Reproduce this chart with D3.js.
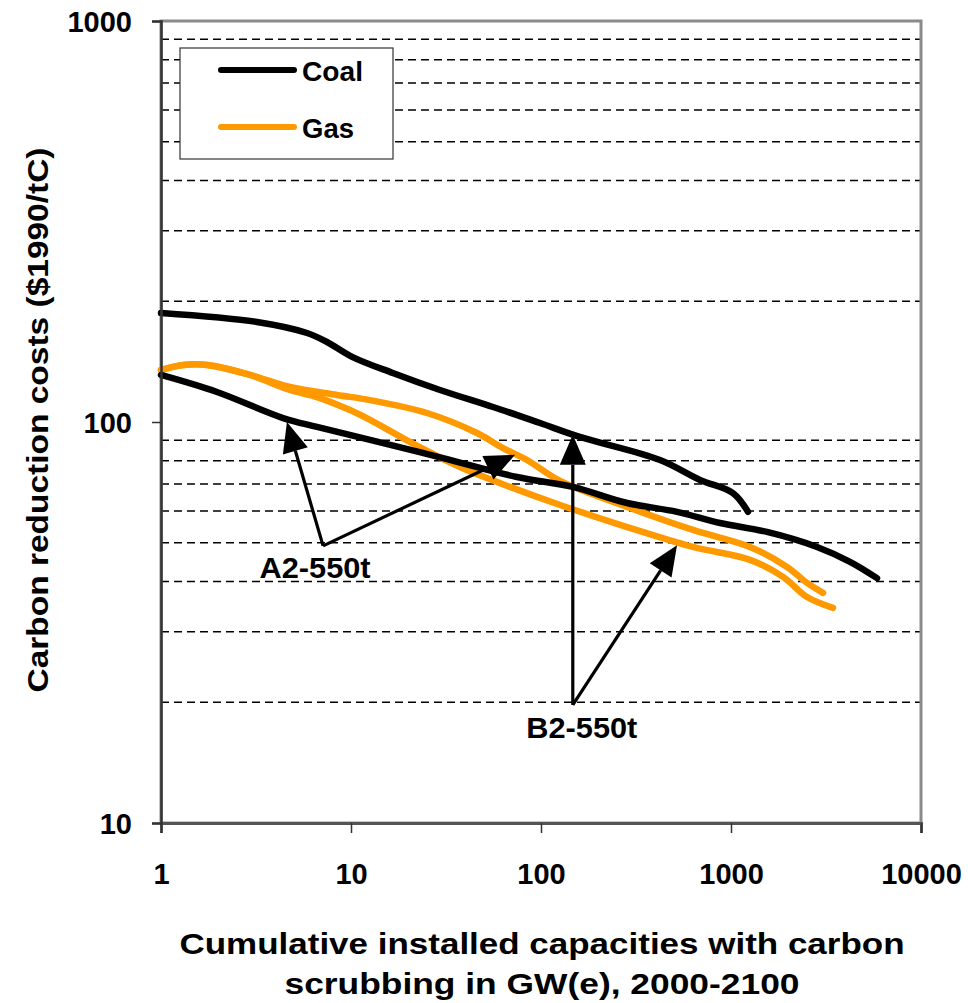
<!DOCTYPE html>
<html>
<head>
<meta charset="utf-8">
<script src="https://cdn.jsdelivr.net/npm/d3@7"></script>
<style>
  html, body { margin: 0; padding: 0; background: #fff; }
  svg { display: block; }
  text { font-family: "Liberation Sans", Arial, sans-serif; fill: #000; }
</style>
</head>
<body>
<svg id="chart" width="968" height="1003"></svg>
<script>
// ---------- data ----------
const xTicks = [1, 10, 100, 1000, 10000];
const yTicks = [10, 100, 1000];
const gridValues = [20, 30, 40, 50, 60, 70, 80, 90, 200, 300, 400, 500, 600, 700, 800, 900];

// Coal, B2-550t scenario (upper black curve)
const coalB2x = [1, 3.2, 5.87, 7.47, 10.2, 16.6, 29.4, 55.9, 98.8, 160, 423, 687, 1024, 1229];
const coalB2y = [187, 177.6, 166.7, 158.3, 145.2, 132.5, 120.2, 109.0, 99.4, 91.8, 80.4, 71.7, 66.5, 59.7];

// Coal, A2-550t scenario (lower black curve)
const coalA2x = [1, 1.97, 4.39, 6.62, 12.6, 30.5, 74.8, 147, 284, 520, 875, 1547, 2836, 4229, 5868];
const coalA2y = [131, 118.8, 102.3, 97.2, 90.2, 81.3, 72.9, 68.9, 62.8, 59.7, 56.0, 53.2, 48.8, 44.8, 40.8];

// Gas, A2-550t scenario (upper orange curve)
const gasA2x = [1, 1.31, 1.75, 2.94, 4.77, 8.44, 12.6, 25.1, 46.0, 63.1, 84.4, 126, 284, 631, 1259, 1971, 2512, 3050];
const gasA2y = [134.8, 138.7, 138.7, 131, 122.3, 116.8, 113.4, 105.3, 93.9, 86.1, 80.4, 71.3, 61.4, 53.8, 48.8, 43.5, 39.7, 37.5];

// Gas, B2-550t scenario (lower orange curve)
const gasB2x = [1, 1.31, 1.75, 2.94, 4.77, 6.62, 9.88, 12.6, 20.4, 37.5, 68.7, 126, 284, 631, 1259, 1878, 2512, 3442];
const gasB2y = [134.8, 138.7, 138.7, 131, 120.2, 115.4, 107.1, 101.2, 89.2, 77.2, 68.9, 62.1, 54.7, 48.8, 45.3, 41.1, 36.6, 34.4];

const seriesNames = ["Coal", "Gas"];

// annotations: label, label position, arrow tips (data coordinates)
const annLabels = ["A2-550t", "B2-550t"];
const annLabelPos = [[6.47, 43.3], [164, 17.3]];
const annVertex = [[7.13, 49.1], [147, 19.7]];
const annTips = [[[4.6, 100], [73, 82.8]], [[147, 92.9], [520, 49.3]]];

// ---------- layout ----------
const W = 968, H = 1003;
const m = { left: 161, top: 21, right: 47, bottom: 180 };
const pw = W - m.left - m.right;   // 760
const ph = H - m.top - m.bottom;   // 802

const svg = d3.select("#chart");
const g = svg.append("g").attr("transform", `translate(${m.left},${m.top})`);

const x = d3.scaleLog().domain([1, 10000]).range([0, pw]);
const y = d3.scaleLog().domain([10, 1000]).range([ph, 0]);

const zip = (a, b) => a.map((v, i) => [v, b[i]]);

// gridlines
g.append("g").selectAll("line").data(gridValues).join("line")
  .attr("x1", 0).attr("x2", pw)
  .attr("y1", d => y(d)).attr("y2", d => y(d))
  .attr("stroke", "#000").attr("stroke-width", 1.5)
  .attr("stroke-dasharray", "8,5");

// plot frame (top/right in grey)
g.append("rect").attr("x", 0).attr("y", 0).attr("width", pw).attr("height", ph)
  .attr("fill", "none").attr("stroke", "#8a8a8a").attr("stroke-width", 3);

// curves
const line = d3.line().x(d => x(d[0])).y(d => y(d[1])).curve(d3.curveCatmullRom.alpha(0.5));
const curves = [
  { pts: zip(gasA2x, gasA2y), color: "#ff9900" },
  { pts: zip(gasB2x, gasB2y), color: "#ff9900" },
  { pts: zip(coalA2x, coalA2y), color: "#000" },
  { pts: zip(coalB2x, coalB2y), color: "#000" }
];
g.append("g").selectAll("path").data(curves).join("path")
  .attr("d", d => line(d.pts))
  .attr("fill", "none")
  .attr("stroke", d => d.color)
  .attr("stroke-width", 6.5)
  .attr("stroke-linecap", "round")
  .attr("stroke-linejoin", "round");

// axes
const xAxis = d3.axisBottom(x).tickValues(xTicks).tickSize(10).tickFormat(d => d);
const xg = g.append("g").attr("transform", `translate(0,${ph})`).call(xAxis);
xg.select(".domain").attr("stroke", "#555").attr("stroke-width", 3);
xg.selectAll(".tick line").attr("stroke", "#333").attr("stroke-width", 1.5);
xg.selectAll(".tick text")
  .attr("y", 51).attr("dy", "0.35em")
  .style("font-size", "29px").style("font-weight", "bold")
  .style("font-family", "'Liberation Sans', Arial, sans-serif").attr("fill", "#000");

const yAxis = d3.axisLeft(y).tickValues(yTicks).tickSize(9).tickFormat(d => d);
const yg = g.append("g").call(yAxis);
yg.select(".domain").attr("stroke", "#333").attr("stroke-width", 2.5);
yg.selectAll(".tick line").attr("stroke", "#333").attr("stroke-width", 1.5);
yg.selectAll(".tick text")
  .attr("x", -29).attr("dy", "0.35em")
  .style("font-size", "29px").style("font-weight", "bold")
  .style("font-family", "'Liberation Sans', Arial, sans-serif").attr("fill", "#000");

// annotations
const ann = g.append("g");
annLabels.forEach((lab, i) => {
  const v = [x(annVertex[i][0]), y(annVertex[i][1])];
  annTips[i].forEach(t => {
    const tp = [x(t[0]), y(t[1])];
    const dx = tp[0] - v[0], dy = tp[1] - v[1];
    const len = Math.hypot(dx, dy);
    const ux = dx / len, uy = dy / len;
    const hl = 30, hw = 13;
    const bx = tp[0] - ux * hl, by = tp[1] - uy * hl;
    ann.append("line")
      .attr("x1", v[0]).attr("y1", v[1]).attr("x2", bx).attr("y2", by)
      .attr("stroke", "#000").attr("stroke-width", 3.2);
    ann.append("polygon")
      .attr("points", [[tp[0], tp[1]], [bx - uy * hw, by + ux * hw], [bx + uy * hw, by - ux * hw]]
        .map(p => p.join(",")).join(" "))
      .attr("fill", "#000");
  });
  ann.append("text")
    .attr("x", x(annLabelPos[i][0])).attr("y", y(annLabelPos[i][1]))
    .attr("dy", "0.35em").attr("text-anchor", "middle")
    .attr("textLength", 111).attr("lengthAdjust", "spacingAndGlyphs")
    .style("font-size", "29px").style("font-weight", "bold")
    .text(lab);
});

// legend
const lg = svg.append("g");
lg.append("rect").attr("x", 180).attr("y", 48).attr("width", 213).attr("height", 111)
  .attr("fill", "#fff").attr("stroke", "#333").attr("stroke-width", 1.2);
const legColors = ["#000", "#ff9900"];
seriesNames.forEach((n, i) => {
  const yy = 70 + i * 57;
  lg.append("line").attr("x1", 221).attr("x2", 294).attr("y1", yy).attr("y2", yy)
    .attr("stroke", legColors[i]).attr("stroke-width", 6).attr("stroke-linecap", "round");
  lg.append("text").attr("x", 302).attr("y", yy + 2).attr("dy", "0.35em")
    .attr("textLength", n === "Coal" ? 61 : 52).attr("lengthAdjust", "spacingAndGlyphs")
    .style("font-size", "27px").style("font-weight", "bold").text(n);
});

// axis titles
svg.append("text")
  .attr("transform", "translate(38,420) rotate(-90)")
  .attr("text-anchor", "middle").attr("dy", "0.35em")
  .attr("textLength", 545).attr("lengthAdjust", "spacingAndGlyphs")
  .style("font-size", "29px").style("font-weight", "bold")
  .text("Carbon reduction costs ($1990/tC)");

svg.append("text")
  .attr("x", 542).attr("y", 943).attr("dy", "0.35em").attr("text-anchor", "middle")
  .attr("textLength", 725).attr("lengthAdjust", "spacingAndGlyphs")
  .style("font-size", "30px").style("font-weight", "bold")
  .text("Cumulative installed capacities with carbon");
svg.append("text")
  .attr("x", 542).attr("y", 983).attr("dy", "0.35em").attr("text-anchor", "middle")
  .attr("textLength", 515).attr("lengthAdjust", "spacingAndGlyphs")
  .style("font-size", "30px").style("font-weight", "bold")
  .text("scrubbing in GW(e), 2000-2100");
</script>
</body>
</html>
